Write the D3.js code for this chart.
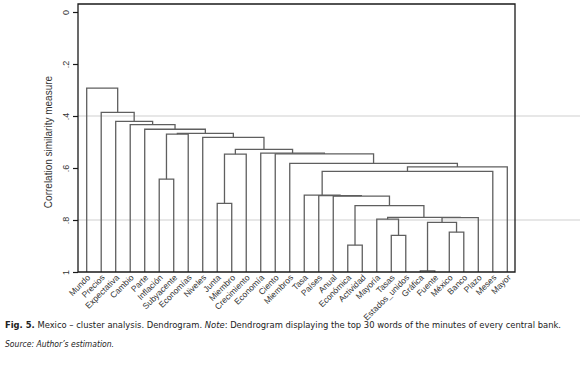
<!DOCTYPE html>
<meta charset="utf-8">
<head>
<style>
  body { margin: 0; background: #fff; }
  svg text { font-family: "Liberation Sans", Arial, sans-serif; }
</style>
</head>
<body>
<script src="https://cdn.jsdelivr.net/npm/d3@7"></script>
<svg id="chart" width="580" height="370"></svg>
<script>

// leaf order, left to right
var words = ["Mundo", "Precios", "Expectativa", "Cambio", "Parte", "Inflación", "Subyacente",
  "Economías", "Niveles", "Junta", "Miembro", "Crecimiento", "Economía", "Ciento", "Miembros",
  "Tasa", "Países", "Anual", "Económica", "Actividad", "Mayoría", "Tasas", "Estados_unidos",
  "Gráfica", "Fuente", "México", "Banco", "Plazo", "Meses", "Mayor"];

// merges: node name, left child, right child, similarity where they join
var mergeName  = ["root", "n1", "n2", "n3", "n4", "n5", "n6", "n8", "n7", "n9", "n10", "n12",
  "n11", "n13", "n14", "n15", "n16", "n17", "n18", "n19", "n20", "n21", "n22", "n23", "n25",
  "n24", "n26", "n27", "n28"];
var mergeLeft  = ["Mundo", "Precios", "Expectativa", "Cambio", "Parte", "n6", "n8", "Inflación",
  "Niveles", "n10", "n12", "Junta", "Economía", "Ciento", "Miembros", "n16", "n17", "Tasa",
  "Países", "Anual", "n21", "Económica", "n23", "Mayoría", "Tasas", "n26", "n27", "Gráfica", "México"];
var mergeRight = ["n1", "n2", "n3", "n4", "n5", "n7", "Economías", "Subyacente", "n9", "n11",
  "Crecimiento", "Miembro", "n13", "n14", "n15", "Mayor", "Meses", "n18", "n19", "n20", "n22",
  "Actividad", "n24", "n25", "Estados_unidos", "Plazo", "n28", "Fuente", "Banco"];
var mergeHeight = [0.293, 0.386, 0.421, 0.433, 0.451, 0.467, 0.470, 0.643, 0.482, 0.528, 0.547,
  0.736, 0.543, 0.546, 0.582, 0.596, 0.613, 0.704, 0.706, 0.708, 0.745, 0.897, 0.790, 0.797,
  0.859, 0.791, 0.809, 0.996, 0.847];

var yTicks = [0, 0.2, 0.4, 0.6, 0.8, 1];
var gridTicks = [0.4, 0.8];

var svg = d3.select("#chart");

var pLeft = 78, pRight = 515, pTop = 4, pBottom = 272;

var x = d3.scalePoint().domain(words).range([86.7, 507.3]);
var y = d3.scaleLinear().domain([0, 1]).range([12, 272]);

// build the tree
var nodes = {};
words.forEach(function(w){ nodes[w] = {name: w}; });
mergeName.forEach(function(n, i){ nodes[n] = {name: n, h: mergeHeight[i]}; });
mergeName.forEach(function(n, i){
  nodes[n].children = [nodes[mergeLeft[i]], nodes[mergeRight[i]]];
});

var root = d3.hierarchy(nodes["root"]);
root.eachAfter(function(d){
  if (!d.children) { d.px = x(d.data.name); d.py = y(1); }
  else {
    d.px = d3.mean(d.children, function(c){ return c.px; });
    d.py = y(d.data.h);
  }
});

// grid lines
svg.selectAll(".grid").data(gridTicks).enter().append("line")
  .attr("x1", pLeft).attr("x2", 580)
  .attr("y1", function(d){ return y(d); }).attr("y2", function(d){ return y(d); })
  .attr("stroke", "#cfcfcf").attr("stroke-width", 1);

// links
var links = root.descendants().filter(function(d){ return d.children; });
svg.selectAll(".link").data(links).enter().append("path")
  .attr("fill", "none")
  .attr("stroke", "#5f5f5f")
  .attr("stroke-width", 1.3)
  .attr("d", function(d){
    var a = d.children[0], b = d.children[1];
    return "M" + a.px + "," + a.py + "V" + d.py + "H" + b.px + "V" + b.py;
  });

// frame
svg.append("path")
  .attr("fill", "none").attr("stroke", "#1a1a1a").attr("stroke-width", 1.3)
  .attr("d", "M" + pLeft + "," + pTop + "H" + pRight + "V" + pBottom + "H" + pLeft + "Z");

// y axis
var yAxis = svg.append("g")
  .attr("transform", "translate(" + pLeft + ",0)")
  .call(d3.axisLeft(y).tickValues(yTicks).tickSize(5).tickPadding(0)
    .tickFormat(function(d){ return d === 0 ? "0" : d === 1 ? "1" : d3.format(".1f")(d).replace("0.", "."); }));
yAxis.select(".domain").remove();
yAxis.selectAll(".tick line").attr("stroke", "#1a1a1a").attr("stroke-width", 1.2);
yAxis.selectAll(".tick text")
  .attr("x", 0).attr("dy", 0)
  .attr("transform", "translate(-9,0) rotate(-90)")
  .attr("text-anchor", "middle")
  .attr("fill", "#333")
  .style("font-size", "9px");

svg.append("text")
  .attr("transform", "translate(52," + ((pTop + pBottom) / 2 + 4) + ") rotate(-90)")
  .attr("text-anchor", "middle")
  .attr("fill", "#333")
  .style("font-size", "10px")
  .text("Correlation similarity measure");

// leaf labels
svg.selectAll(".leaf").data(words).enter().append("text")
  .attr("transform", function(d){ return "translate(" + (x(d) + 2) + "," + (pBottom + 4) + ") rotate(-45)"; })
  .attr("text-anchor", "end")
  .attr("dy", "0.35em")
  .attr("fill", "#333")
  .style("font-size", "8.5px")
  .text(function(d){ return d; });

// caption
var cap = svg.append("text").attr("x", 5).attr("y", 328)
  .attr("textLength", 556).attr("lengthAdjust", "spacingAndGlyphs")
  .attr("fill", "#222")
  .style("font-family", "'DejaVu Sans Condensed', 'Liberation Sans Narrow', sans-serif")
  .style("font-size", "8.5px");
cap.append("tspan").style("font-weight", "bold").text("Fig. 5.");
cap.append("tspan").text("  Mexico \u2013 cluster analysis. Dendrogram. ");
cap.append("tspan").style("font-style", "italic").text("Note");
cap.append("tspan").text(": Dendrogram displaying the top 30 words of the minutes of every central bank.");

svg.append("text").attr("x", 5).attr("y", 347)
  .attr("fill", "#222")
  .style("font-family", "'DejaVu Sans Condensed', 'Liberation Sans Narrow', sans-serif")
  .style("font-size", "8.5px").style("font-style", "italic")
  .text("Source: Author\u2019s estimation.");

</script>
</body>
